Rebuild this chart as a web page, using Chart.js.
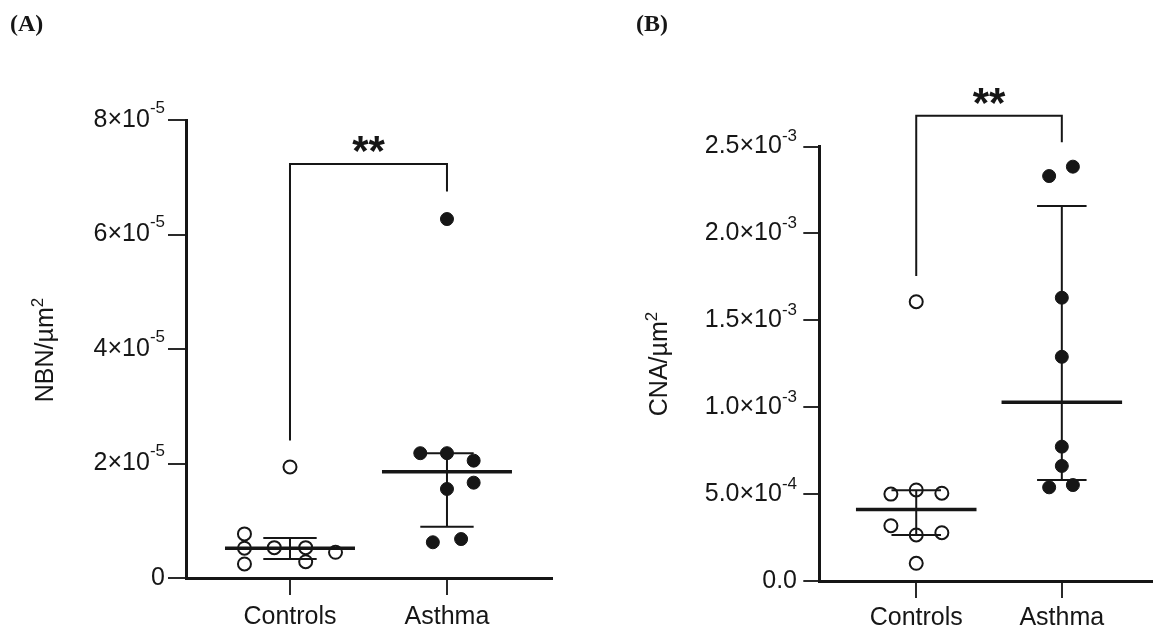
<!DOCTYPE html>
<html>
<head>
<meta charset="utf-8">
<script src="https://cdn.jsdelivr.net/npm/chart.js@4.4.1/dist/chart.umd.min.js"></script>
<style>
  html, body { margin: 0; padding: 0; background: #fff; }
  #wrap { position: relative; width: 1160px; height: 629px; }
  canvas { position: absolute; top: 0; }
  #chartA { left: 0; }
  #chartB { left: 580px; }
</style>
</head>
<body>
<div id="wrap">
  <canvas id="chartA" width="580" height="629"></canvas>
  <canvas id="chartB" width="580" height="629"></canvas>
</div>
<script>
const groups = ["Controls", "Asthma"];

// (A) NBN per µm²
const nbnControls = [1.94e-5, 0.77e-5, 0.52e-5, 0.245e-5, 0.53e-5, 0.53e-5, 0.285e-5, 0.45e-5];
const nbnControlsOffset = [0, -0.29, -0.29, -0.29, -0.1, 0.1, 0.1, 0.29];
const nbnAsthma = [6.27e-5, 2.18e-5, 2.18e-5, 2.05e-5, 1.665e-5, 1.555e-5, 0.624e-5, 0.68e-5];
const nbnAsthmaOffset = [0, -0.17, 0, 0.17, 0.17, 0, -0.09, 0.09];
const nbnMedian = [0.52e-5, 1.857e-5];
const nbnQ1 = [0.33e-5, 0.896e-5];
const nbnQ3 = [0.70e-5, 2.178e-5];
const nbnTicks = [0, 2e-5, 4e-5, 6e-5, 8e-5];
const nbnTickText = ["0", "2×10", "4×10", "6×10", "8×10"];
const nbnTickExp = ["", "-5", "-5", "-5", "-5"];
// bracket: left leg bottom, bar height, right leg bottom
const nbnBracket = [2.4e-5, 7.23e-5, 6.75e-5];

// (B) CNA per µm²
const cnaControls = [1.607e-3, 5.0e-4, 5.24e-4, 5.05e-4, 3.18e-4, 2.65e-4, 2.78e-4, 1.02e-4];
const cnaControlsOffset = [0, -0.174, 0, 0.176, -0.174, 0, 0.176, 0];
const cnaAsthma = [2.33e-3, 2.384e-3, 1.63e-3, 1.29e-3, 7.73e-4, 6.62e-4, 5.39e-4, 5.52e-4];
const cnaAsthmaOffset = [-0.087, 0.076, 0, 0, 0, 0, -0.087, 0.076];
const cnaMedian = [4.12e-4, 1.028e-3];
const cnaQ1 = [2.65e-4, 5.81e-4];
const cnaQ3 = [5.22e-4, 2.157e-3];
const cnaTicks = [0, 5e-4, 1e-3, 1.5e-3, 2e-3, 2.5e-3];
const cnaTickText = ["0.0", "5.0×10", "1.0×10", "1.5×10", "2.0×10", "2.5×10"];
const cnaTickExp = ["", "-4", "-3", "-3", "-3", "-3"];
const cnaBracket = [1.755e-3, 2.677e-3, 2.524e-3];

const INK = "#161616";
const SANS = '"Liberation Sans", Arial, sans-serif';

function pts(values, offsets, group) {
  return values.map((v, i) => ({ x: group + 1 + offsets[i], y: v }));
}

function summaryLines(median, q1, q3) {
  const med = [], whisk = [];
  median.forEach((m, i) => {
    const x = i + 1;
    med.push({ x: x - 0.414, y: m }, { x: x + 0.414, y: m }, { x: x + 0.5, y: null });
    whisk.push(
      { x: x - 0.17, y: q3[i] }, { x: x + 0.17, y: q3[i] }, { x: x, y: null },
      { x: x, y: q3[i] }, { x: x, y: q1[i] }, { x: x, y: null },
      { x: x - 0.17, y: q1[i] }, { x: x + 0.17, y: q1[i] }, { x: x + 0.5, y: null }
    );
  });
  return { med, whisk };
}

const overlay = {
  id: "overlay",
  afterDraw(chart, args, o) {
    const ctx = chart.ctx;
    const xs = chart.scales.x, ys = chart.scales.y;
    ctx.save();
    ctx.fillStyle = INK;

    // tick labels with superscript exponents
    ctx.textBaseline = "middle";
    o.ticks.forEach((v, i) => {
      const py = ys.getPixelForValue(v);
      const exp = o.tickExp[i];
      ctx.font = "17px " + SANS;
      const w = exp ? ctx.measureText(exp).width : 0;
      if (exp) {
        ctx.textAlign = "left";
        ctx.fillText(exp, o.labelRight - w, py + o.supShift);
      }
      ctx.font = "25px " + SANS;
      ctx.textAlign = "right";
      ctx.fillText(o.tickText[i], o.labelRight - w, py);
    });

    // y title, rotated, with superscript 2
    ctx.save();
    ctx.translate(o.titleX, o.titleY);
    ctx.rotate(-Math.PI / 2);
    ctx.textBaseline = "alphabetic";
    ctx.textAlign = "left";
    ctx.font = "25px " + SANS;
    const mw = ctx.measureText(o.title).width;
    ctx.font = "17px " + SANS;
    const sw = ctx.measureText("2").width;
    const start = -(mw + sw) / 2;
    ctx.font = "25px " + SANS;
    ctx.fillText(o.title, start, 0);
    ctx.font = "17px " + SANS;
    ctx.fillText("2", start + mw, -10);
    ctx.restore();

    // significance stars
    ctx.font = "bold 42px " + SANS;
    ctx.textAlign = "center";
    ctx.textBaseline = "alphabetic";
    ctx.fillText("**", xs.getPixelForValue(1.5), ys.getPixelForValue(o.bracket[1]) + 1);

    // panel letter
    ctx.font = 'bold 24px "Liberation Serif", "Times New Roman", serif';
    ctx.textAlign = "left";
    ctx.fillText(o.letter, o.letterX, 31);
    ctx.restore();
  }
};

function makePanel(id, d, lay) {
  const s = summaryLines(d.median, d.q1, d.q3);
  const b = d.bracket;
  const lineDs = (data, width) => ({
    data, showLine: true, pointRadius: 0, borderColor: INK, borderWidth: width,
    spanGaps: false, tension: 0, clip: false, order: 1
  });
  return new Chart(document.getElementById(id), {
    type: "scatter",
    data: {
      datasets: [
        {
          data: pts(d.controls, d.controlsOffset, 0),
          pointRadius: 6.5, pointBorderWidth: 2, pointBorderColor: INK,
          pointBackgroundColor: "rgba(0,0,0,0)", order: 0
        },
        {
          data: pts(d.asthma, d.asthmaOffset, 1),
          pointRadius: 6.5, pointBorderWidth: 1, pointBorderColor: INK,
          pointBackgroundColor: INK, order: 0
        },
        lineDs(s.med, 3.5),
        lineDs(s.whisk, 2),
        lineDs([{ x: 1, y: b[0] }, { x: 1, y: b[1] }, { x: 2, y: b[1] }, { x: 2, y: b[2] }], 2)
      ]
    },
    options: {
      responsive: false,
      animation: false,
      events: [],
      devicePixelRatio: 1,
      layout: { padding: { left: 0, top: lay.top, right: lay.right, bottom: 0 } },
      plugins: {
        legend: { display: false },
        tooltip: { enabled: false },
        overlay: {
          ticks: d.ticks, tickText: d.tickText, tickExp: d.tickExp,
          labelRight: lay.labelRight, supShift: lay.supShift,
          title: d.title, titleX: lay.titleX, titleY: lay.titleY,
          bracket: b, letter: d.letter, letterX: lay.letterX
        }
      },
      scales: {
        x: {
          type: "linear",
          min: lay.xMin, max: lay.xMax,
          afterBuildTicks: (sc) => { sc.ticks = groups.map((g, i) => ({ value: i + 1 })); },
          afterFit: (sc) => { sc.height = lay.xHeight; },
          ticks: {
            callback: (v) => groups[Math.round(v) - 1],
            color: INK, font: { family: SANS, size: 25 }, padding: lay.xPad,
            maxRotation: 0, autoSkip: false
          },
          grid: { drawOnChartArea: false, drawTicks: true, tickLength: 17, color: "#2a2a2a", lineWidth: 2 },
          border: { display: true, color: INK, width: 3 }
        },
        y: {
          min: 0, max: d.ticks[d.ticks.length - 1],
          afterBuildTicks: (sc) => { sc.ticks = d.ticks.map((v) => ({ value: v })); },
          afterFit: (sc) => { sc.width = lay.yWidth; },
          ticks: { display: false },
          grid: { drawOnChartArea: false, drawTicks: true, tickLength: lay.yTickLen, color: "#2a2a2a", lineWidth: 2 },
          border: { display: true, color: INK, width: 3 }
        }
      }
    },
    plugins: [overlay]
  });
}

makePanel("chartA", {
  controls: nbnControls, controlsOffset: nbnControlsOffset,
  asthma: nbnAsthma, asthmaOffset: nbnAsthmaOffset,
  median: nbnMedian, q1: nbnQ1, q3: nbnQ3,
  ticks: nbnTicks, tickText: nbnTickText, tickExp: nbnTickExp,
  bracket: nbnBracket, title: "NBN/µm", letter: "(A)"
}, {
  top: 120, right: 28, yWidth: 186, xHeight: 51, xMin: 0.3376, xMax: 2.669,
  xPad: 7, yTickLen: 18, labelRight: 165, supShift: -12,
  titleX: 53, titleY: 350, letterX: 10
});

makePanel("chartB", {
  controls: cnaControls, controlsOffset: cnaControlsOffset,
  asthma: cnaAsthma, asthmaOffset: cnaAsthmaOffset,
  median: cnaMedian, q1: cnaQ1, q3: cnaQ3,
  ticks: cnaTicks, tickText: cnaTickText, tickExp: cnaTickExp,
  bracket: cnaBracket, title: "CNA/µm", letter: "(B)"
}, {
  top: 146.5, right: 0, yWidth: 239.3, xHeight: 48, xMin: 0.3342, xMax: 2.616,
  xPad: 5, yTickLen: 16, labelRight: 217, supShift: -10,
  titleX: 87, titleY: 364, letterX: 56
});
</script>
</body>
</html>
